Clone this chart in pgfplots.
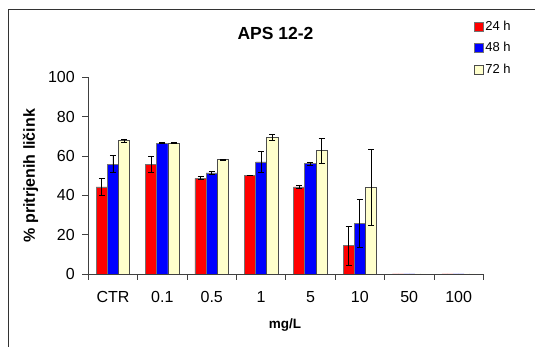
\documentclass[border=0pt]{standalone}
\usepackage{fontspec}
\setmainfont{Liberation Sans}
\usepackage{pgfplots}
\pgfplotsset{compat=1.18}
\usepackage{pgfplotstable}
\definecolor{cream}{HTML}{FFFFCC}
\pgfplotstableread{
x y24 e24 y48 e48 y72 e72
0 44.3 4.2 55.9 4.4 67.9 0.8
1 55.9 4.0 66.6 0.1 66.6 0.1
2 48.7 0.8 51.4 0.8 58.2 0.2
3 50.1 0.2 57.0 5.2 69.4 1.7
4 44.3 1.0 56.0 0.9 62.8 6.3
5 14.4 10.0 25.8 12.2 44.0 19.5
6 0 0 0 0 0 0
7 0 0 0 0 0 0
}\data
\begin{document}
\begin{tikzpicture}
\clip (0pt,0pt) rectangle (535pt,347pt);
\path[use as bounding box] (0pt,0pt) rectangle (535pt,347pt);
\draw[black!80, line width=1pt] (8.2pt,-5pt) -- (8.2pt,337pt) -- (545pt,337pt);
\begin{axis}[
  at={(88.3pt,73pt)}, anchor=south west, scale only axis,
  width=395pt, height=196.6pt,
  xmin=-0.5, xmax=7.5, ymin=0, ymax=100,
  axis x line=bottom, axis y line=left,
  axis line style={-, black!75, line width=0.8pt},
  every tick/.style={black!75, line width=0.8pt},
  tick align=outside, major tick length=6pt,
  ytick={0,20,...,100},
  xtick={-0.5,0.5,...,7.5}, xticklabels={},
  extra x ticks={0,1,...,7},
  extra x tick labels={CTR,0.1,0.5,1,5,10,50,100},
  extra x tick style={major tick length=0pt},
  /pgf/number format/assume math mode=true,
  ticklabel style={font=\fontsize{16}{19}\selectfont},
  xticklabel style={yshift=-14pt},
  yticklabel style={xshift=-4pt},
  ybar=0pt, bar width=0.227,
  title={APS 12-2},
  title style={font=\bfseries\fontsize{17.5}{20}\selectfont, at={(axis description cs:0.474,1.1953)}, anchor=base, yshift=-6.5pt},
  xlabel={mg/L},
  xlabel style={font=\bfseries\fontsize{13.5}{16}\selectfont, at={(axis description cs:0.498,-0.2747)}, anchor=base},
  ylabel={\% pritrjenih ličink},
  ylabel style={font=\bfseries\fontsize{16}{19}\selectfont, at={(axis description cs:-0.146,0.5)}, anchor=center},
  legend image code/.code={\draw[#1, line width=0.6pt] (0pt,-4.5pt) rectangle (9pt,4.5pt);},
  legend style={draw=none, fill=none, font=\fontsize{13}{15}\selectfont,
    at={(axis description cs:0.9765,1.295)}, anchor=north west, inner sep=0pt,
    row sep=7.5pt, nodes={inner sep=1.5pt}},
  legend cell align=left,
  error bars/error bar style={black, line width=0.8pt},
  error bars/error mark options={rotate=90, mark size=3pt, black, line width=0.8pt},
]
\addplot[fill=red, draw=black!55, line width=0.8pt, error bars/.cd, y dir=both, y explicit]
  table[x=x, y=y24, y error=e24] {\data};
\addplot[fill=blue, draw=black!55, line width=0.8pt, error bars/.cd, y dir=both, y explicit]
  table[x=x, y=y48, y error=e48] {\data};
\addplot[fill=cream, draw=black!70, line width=0.8pt, error bars/.cd, y dir=both, y explicit]
  table[x=x, y=y72, y error=e72] {\data};
\legend{24 h,48 h,72 h}
\end{axis}
\end{tikzpicture}
\end{document}
